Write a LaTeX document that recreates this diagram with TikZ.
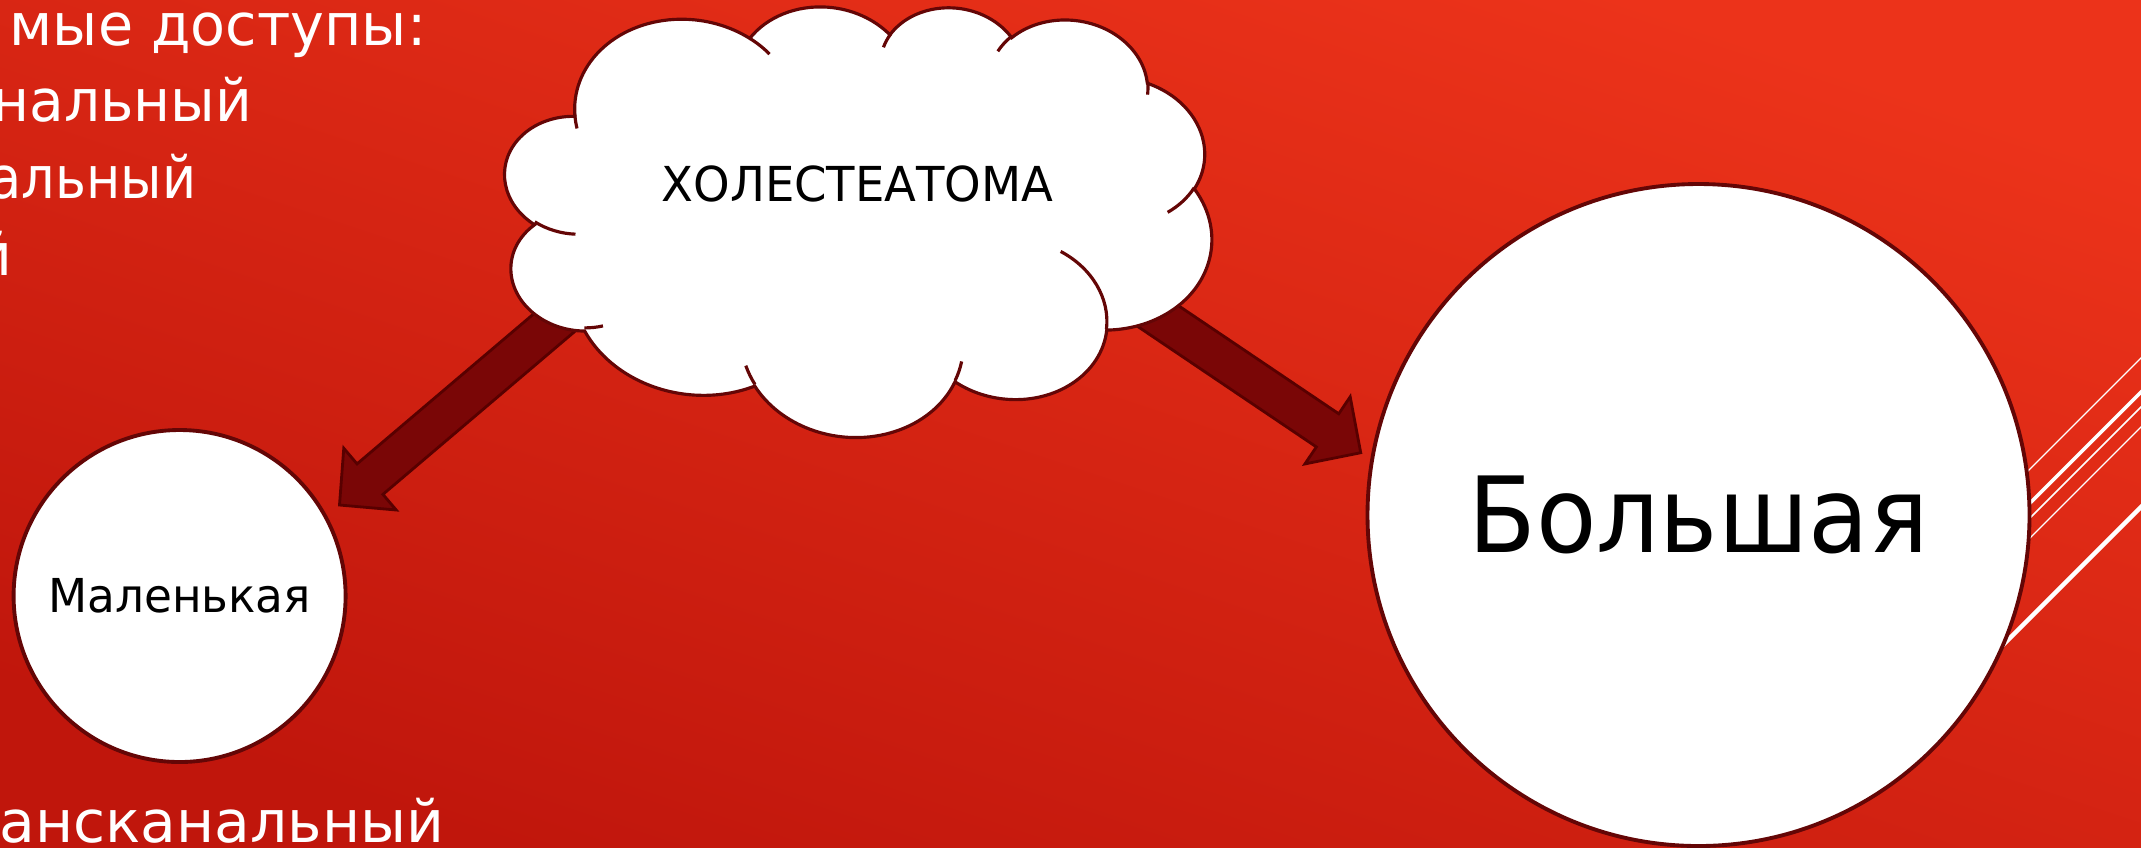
\documentclass[tikz,border=0pt]{standalone}
\usepackage{fontspec}
\setmainfont{DejaVu Sans}
\usetikzlibrary{calc}

\definecolor{bgtop}{RGB}{236,51,26}
\definecolor{bgbot}{RGB}{192,22,12}
\definecolor{arrfill}{RGB}{122,6,6}
\definecolor{arrline}{RGB}{88,0,0}
\definecolor{edgered}{RGB}{100,6,6}

% parametric start angle and sweep of an OOXML arcTo (visual angles)
\newcommand\cldang[5]{%
  \pgfmathsetmacro\cldS{atan2(sin(#4)*#2,cos(#4)*#3)}%
  \pgfmathsetmacro\cldE{atan2(sin(#4+#5)*#2,cos(#4+#5)*#3)}%
  \pgfmathsetmacro\cldD{Mod(\cldE-\cldS,360)}%
  \expandafter\let\csname cld#1s\endcsname\cldS
  \expandafter\let\csname cld#1d\endcsname\cldD}

\cldang{A}{67.53}{91.90}{-190.48748}{123.78053}
\cldang{B}{53.33}{72.67}{-144.10238}{89.94523}
\cldang{C}{43.65}{59.45}{-145.80792}{99.72302}
\cldang{D}{48.57}{65.95}{-130.98607}{117.24173}
\cldang{E}{53.33}{72.73}{-78.70888}{109.02692}
\cldang{F}{67.75}{92.20}{-46.26725}{130.26900}
\cldang{G}{57.85}{78.67}{0.62502}{114.03333}
\cldang{H}{67.52}{92.15}{22.45160}{115.17255}
\cldang{I}{77.20}{105.43}{66.24263}{74.88540}
\cldang{J}{43.60}{59.18}{-274.94208}{146.73468}
\cldang{K}{43.45}{59.45}{-246.82850}{152.52505}
\cldang{P}{43.45}{59.45}{86.74200}{26.42950}
\cldang{Q}{43.60}{59.18}{73.61047}{11.44747}
\cldang{R}{67.52}{92.15}{137.62415}{14.08110}
\cldang{S}{67.52}{92.15}{6.45327}{15.99835}
\cldang{T}{57.85}{78.67}{-70.29235}{70.91737}
\cldang{U}{53.33}{72.73}{30.31803}{27.75150}
\cldang{V}{48.57}{65.95}{-13.74433}{14.85890}
\cldang{W}{48.57}{65.95}{-149.18145}{18.19537}
\cldang{X}{43.65}{59.45}{-163.49427}{17.68635}
\cldang{Y}{67.53}{91.90}{-66.70695}{12.31935}
\cldang{Z}{67.53}{91.90}{157.65435}{11.85817}

\begin{document}
\begin{tikzpicture}[x=0.1mm, y=-0.1mm,
  bubble/.style={circle, draw=edgered, line width=1.1pt, fill=white, inner sep=0pt, text=black},
  blockarr/.style={fill=arrfill, draw=arrline, line width=0.8pt, line join=miter},
  cloudline/.style={draw=edgered, line width=0.9pt},
  leftlabel/.style={anchor=base east, text=white, inner sep=0pt, font=\fontsize{16.6pt}{20pt}\selectfont},
  stripe/.style={draw=white, line cap=butt}]

\useasboundingbox (0,0) rectangle (2141,847);
\shade[top color=bgtop, bottom color=bgbot, shading angle=-18.43] (0,0) rectangle (2141,847);

% decorative stripes on the right
\draw[stripe, line width=0.37pt] (2200,299) -- (1850,649);
\draw[stripe, line width=1.0pt]  (2200,333) -- (1850,683);
\draw[stripe, line width=0.45pt] (2200,348) -- (1850,698);
\draw[stripe, line width=0.37pt] (2200,368) -- (1850,718);
\draw[stripe, line width=1.28pt] (2200,448) -- (1870,778);

% circles
\node[bubble, minimum size=66.2mm, font=\fontsize{29.9pt}{34pt}\selectfont] (big) at (1698.5,515) {\scalebox{0.94}[1]{Большая}};
\node[bubble, minimum size=33.2mm, font=\fontsize{13.3pt}{16pt}\selectfont] (small) at (179.6,596) {\scalebox{0.97}[1]{Маленькая}};

% block arrows
\coordinate (lt) at (600.1,283.7);
\coordinate (lh) at (339.5,505);
\coordinate (lb) at ($(lh)!4mm!(lt)$);
\filldraw[blockarr] ($(lt)!2mm!90:(lh)$) -- ($(lb)!2mm!90:(lh)$) -- ($(lb)!4.05mm!90:(lh)$) -- (lh)
  -- ($(lb)!4.05mm!-90:(lh)$) -- ($(lb)!2mm!-90:(lh)$) -- ($(lt)!2mm!-90:(lh)$) -- cycle;

\coordinate (rt) at (1112,285);
\coordinate (rh) at (1360.7,452.7);
\coordinate (rb) at ($(rh)!4mm!(rt)$);
\filldraw[blockarr] ($(rt)!2mm!90:(rh)$) -- ($(rb)!2mm!90:(rh)$) -- ($(rb)!4.05mm!90:(rh)$) -- (rh)
  -- ($(rb)!4.05mm!-90:(rh)$) -- ($(rb)!2mm!-90:(rh)$) -- ($(rt)!2mm!-90:(rh)$) -- cycle;

% cloud
\begin{scope}[shift={(857,216.6)}, rotate=-5.9, xscale=1.6458, yscale=1.0139]
\filldraw[cloudline, fill=white] (-177,-72.3)
  arc[start angle=\cldAs, delta angle=\cldAd, x radius=67.53, y radius=91.90]
  arc[start angle=\cldBs, delta angle=\cldBd, x radius=53.33, y radius=72.67]
  arc[start angle=\cldCs, delta angle=\cldCd, x radius=43.65, y radius=59.45]
  arc[start angle=\cldDs, delta angle=\cldDd, x radius=48.57, y radius=65.95]
  arc[start angle=\cldEs, delta angle=\cldEd, x radius=53.33, y radius=72.73]
  arc[start angle=\cldFs, delta angle=\cldFd, x radius=67.75, y radius=92.20]
  arc[start angle=\cldGs, delta angle=\cldGd, x radius=57.85, y radius=78.67]
  arc[start angle=\cldHs, delta angle=\cldHd, x radius=67.52, y radius=92.15]
  arc[start angle=\cldIs, delta angle=\cldId, x radius=77.20, y radius=105.43]
  arc[start angle=\cldJs, delta angle=\cldJd, x radius=43.60, y radius=59.18]
  arc[start angle=\cldKs, delta angle=\cldKd, x radius=43.45, y radius=59.45]
  -- cycle;
\draw[cloudline]
  (-169.07,45.77) arc[start angle=\cldPs, delta angle=\cldPd, x radius=43.45, y radius=59.45]
  (-146.72,132.99) arc[start angle=\cldQs, delta angle=\cldQd, x radius=43.60, y radius=59.18]
  (-51.22,174.90) arc[start angle=\cldRs, delta angle=\cldRd, x radius=67.52, y radius=92.15]
  (72.27,131.51) arc[start angle=\cldSs, delta angle=\cldSd, x radius=67.52, y radius=92.15]
  (125.29,13.54) arc[start angle=\cldTs, delta angle=\cldTd, x radius=57.85, y radius=78.67]
  (201.98,-62.46) arc[start angle=\cldUs, delta angle=\cldUd, x radius=53.33, y radius=72.73]
  (167.24,-161.74) arc[start angle=\cldVs, delta angle=\cldVd, x radius=48.57, y radius=65.95]
  (74.78,-176.48) arc[start angle=\cldWs, delta angle=\cldWd, x radius=48.57, y radius=65.95]
  (5.41,-168.80) arc[start angle=\cldXs, delta angle=\cldXd, x radius=43.65, y radius=59.45]
  (-76.00,-164.08) arc[start angle=\cldYs, delta angle=\cldYd, x radius=67.53, y radius=91.90]
  (-174.73,-58.11) arc[start angle=\cldZs, delta angle=\cldZd, x radius=67.53, y radius=91.90];
\end{scope}
\node[inner sep=0pt, text=black, font=\fontsize{13.7pt}{16pt}\selectfont] (cloud) at (857.5,184) {\scalebox{0.966}[1]{ХОЛЕСТЕАТОМА}};

% left text fragments
\node[leftlabel] (t1) at (427,45) {\scalebox{0.98}[1]{мые доступы:}};
\node[leftlabel] (t2) at (253,121.7) {\scalebox{0.97}[1]{нальный}};
\node[leftlabel] (t3) at (197,198.3) {\scalebox{0.9}[1]{альный}};
\node[leftlabel] (t4) at (13,275) {й};
\node[leftlabel] (t5) at (445,842) {ансканальный};
\end{tikzpicture}
\end{document}
